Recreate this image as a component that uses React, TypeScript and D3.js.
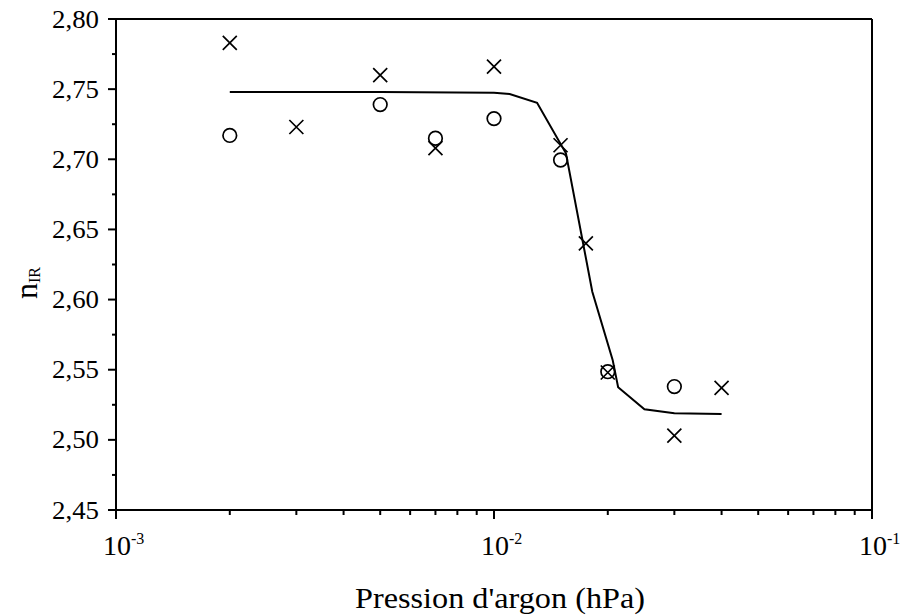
import React from "react";
import * as d3 from "d3";

const crossP = [0.002, 0.003, 0.005, 0.007, 0.01, 0.015, 0.0175, 0.02, 0.03, 0.04];
const crossN = [2.783, 2.723, 2.760, 2.708, 2.766, 2.710, 2.640, 2.548, 2.503, 2.537];
const circleP = [0.002, 0.005, 0.007, 0.01, 0.015, 0.02, 0.03];
const circleN = [2.717, 2.739, 2.715, 2.729, 2.6995, 2.5486, 2.538];
const fitP = [0.002, 0.005, 0.01, 0.011, 0.013, 0.0155, 0.0182, 0.0206, 0.0213, 0.025, 0.03, 0.04];
const fitN = [2.748, 2.748, 2.7475, 2.7465, 2.7403, 2.7043, 2.6056, 2.557, 2.5375, 2.5218, 2.5189, 2.5184];
const yMajor = [2.45, 2.5, 2.55, 2.6, 2.65, 2.7, 2.75, 2.8];
const yMinor = [2.475, 2.525, 2.575, 2.625, 2.675, 2.725, 2.775];
const xMajor = [0.001, 0.01, 0.1];
const xMajorExp = ["-3", "-2", "-1"];
const xTitle = "Pression d'argon (hPa)";

const W = 901, H = 616;
const L = 116, R = 872, T = 19, B = 510;
const FONT = "Liberation Serif";

export default function App() {
  const x = d3.scaleLog().domain([0.001, 0.1]).range([L, R]);
  const y = d3.scaleLinear().domain([2.45, 2.8]).range([B, T]);
  const xMinor: number[] = [];
  [0.001, 0.01].forEach((d) => {
    for (let k = 2; k <= 9; k++) xMinor.push(d * k);
  });
  const line = d3
    .line<number>()
    .x((_, i) => x(fitP[i]))
    .y((d) => y(d));
  const fmt = (v: number) => v.toFixed(2).replace(".", ",");
  return (
    <svg width={W} height={H} style={{ position: "absolute", left: 0, top: 0, background: "#fff" }}>
      <rect x={0} y={0} width={W} height={H} fill="#fff" />
      {/* frame */}
      <line x1={L} x2={R} y1={T} y2={T} stroke="#000" strokeWidth={2} />
      <line x1={R} x2={R} y1={T} y2={B} stroke="#000" strokeWidth={2} />
      <line x1={L} x2={L} y1={T} y2={B + 1} stroke="#000" strokeWidth={2} />
      <line x1={L - 1} x2={R + 1} y1={B} y2={B} stroke="#000" strokeWidth={2} />
      {/* y ticks */}
      {yMajor.map((v) => (
        <g key={"ym" + v}>
          <line x1={L - 8} x2={L} y1={y(v)} y2={y(v)} stroke="#000" strokeWidth={2} />
          <text
            x={99}
            y={y(v) + 8.5}
            textAnchor="end"
            fontFamily={FONT}
            fontSize={25}
            fill="#000"
            textLength={47}
            lengthAdjust="spacingAndGlyphs"
          >
            {fmt(v)}
          </text>
        </g>
      ))}
      {yMinor.map((v) => (
        <line key={"yn" + v} x1={L - 4} x2={L} y1={y(v)} y2={y(v)} stroke="#000" strokeWidth={2} />
      ))}
      {/* x ticks */}
      {xMajor.map((v, i) => (
        <g key={"xm" + v}>
          <line x1={x(v)} x2={x(v)} y1={B} y2={B + 9} stroke="#000" strokeWidth={2} />
          <text x={x(v) - 13} y={555} fontFamily={FONT} fontSize={28} fill="#000">
            10
            <tspan fontSize={16} dy={-11}>{xMajorExp[i]}</tspan>
          </text>
        </g>
      ))}
      {xMinor.map((v) => (
        <line key={"xn" + v} x1={x(v)} x2={x(v)} y1={B} y2={B + 5} stroke="#000" strokeWidth={2} />
      ))}
      {/* fit line */}
      <path d={line(fitN) || ""} fill="none" stroke="#000" strokeWidth={2} />
      {/* crosses */}
      {crossP.map((p, i) => {
        const cx = x(p), cy = y(crossN[i]), s = 7;
        return (
          <path
            key={"c" + i}
            d={`M${cx - s},${cy - s}L${cx + s},${cy + s}M${cx - s},${cy + s}L${cx + s},${cy - s}`}
            stroke="#000"
            strokeWidth={1.7}
            fill="none"
          />
        );
      })}
      {/* circles */}
      {circleP.map((p, i) => (
        <circle key={"o" + i} cx={x(p)} cy={y(circleN[i])} r={6.8} fill="none" stroke="#000" strokeWidth={1.7} />
      ))}
      {/* x title */}
      <text
        x={500}
        y={608}
        textAnchor="middle"
        fontFamily={FONT}
        fontSize={29}
        fill="#000"
        textLength={290}
        lengthAdjust="spacingAndGlyphs"
      >
        {xTitle}
      </text>
      {/* y title */}
      <text
        transform="translate(37,283) rotate(-90)"
        textAnchor="middle"
        fontFamily={FONT}
        fontSize={32}
        fill="#000"
      >
        n
        <tspan fontSize={16} dy={3}>IR</tspan>
      </text>
    </svg>
  );
}
